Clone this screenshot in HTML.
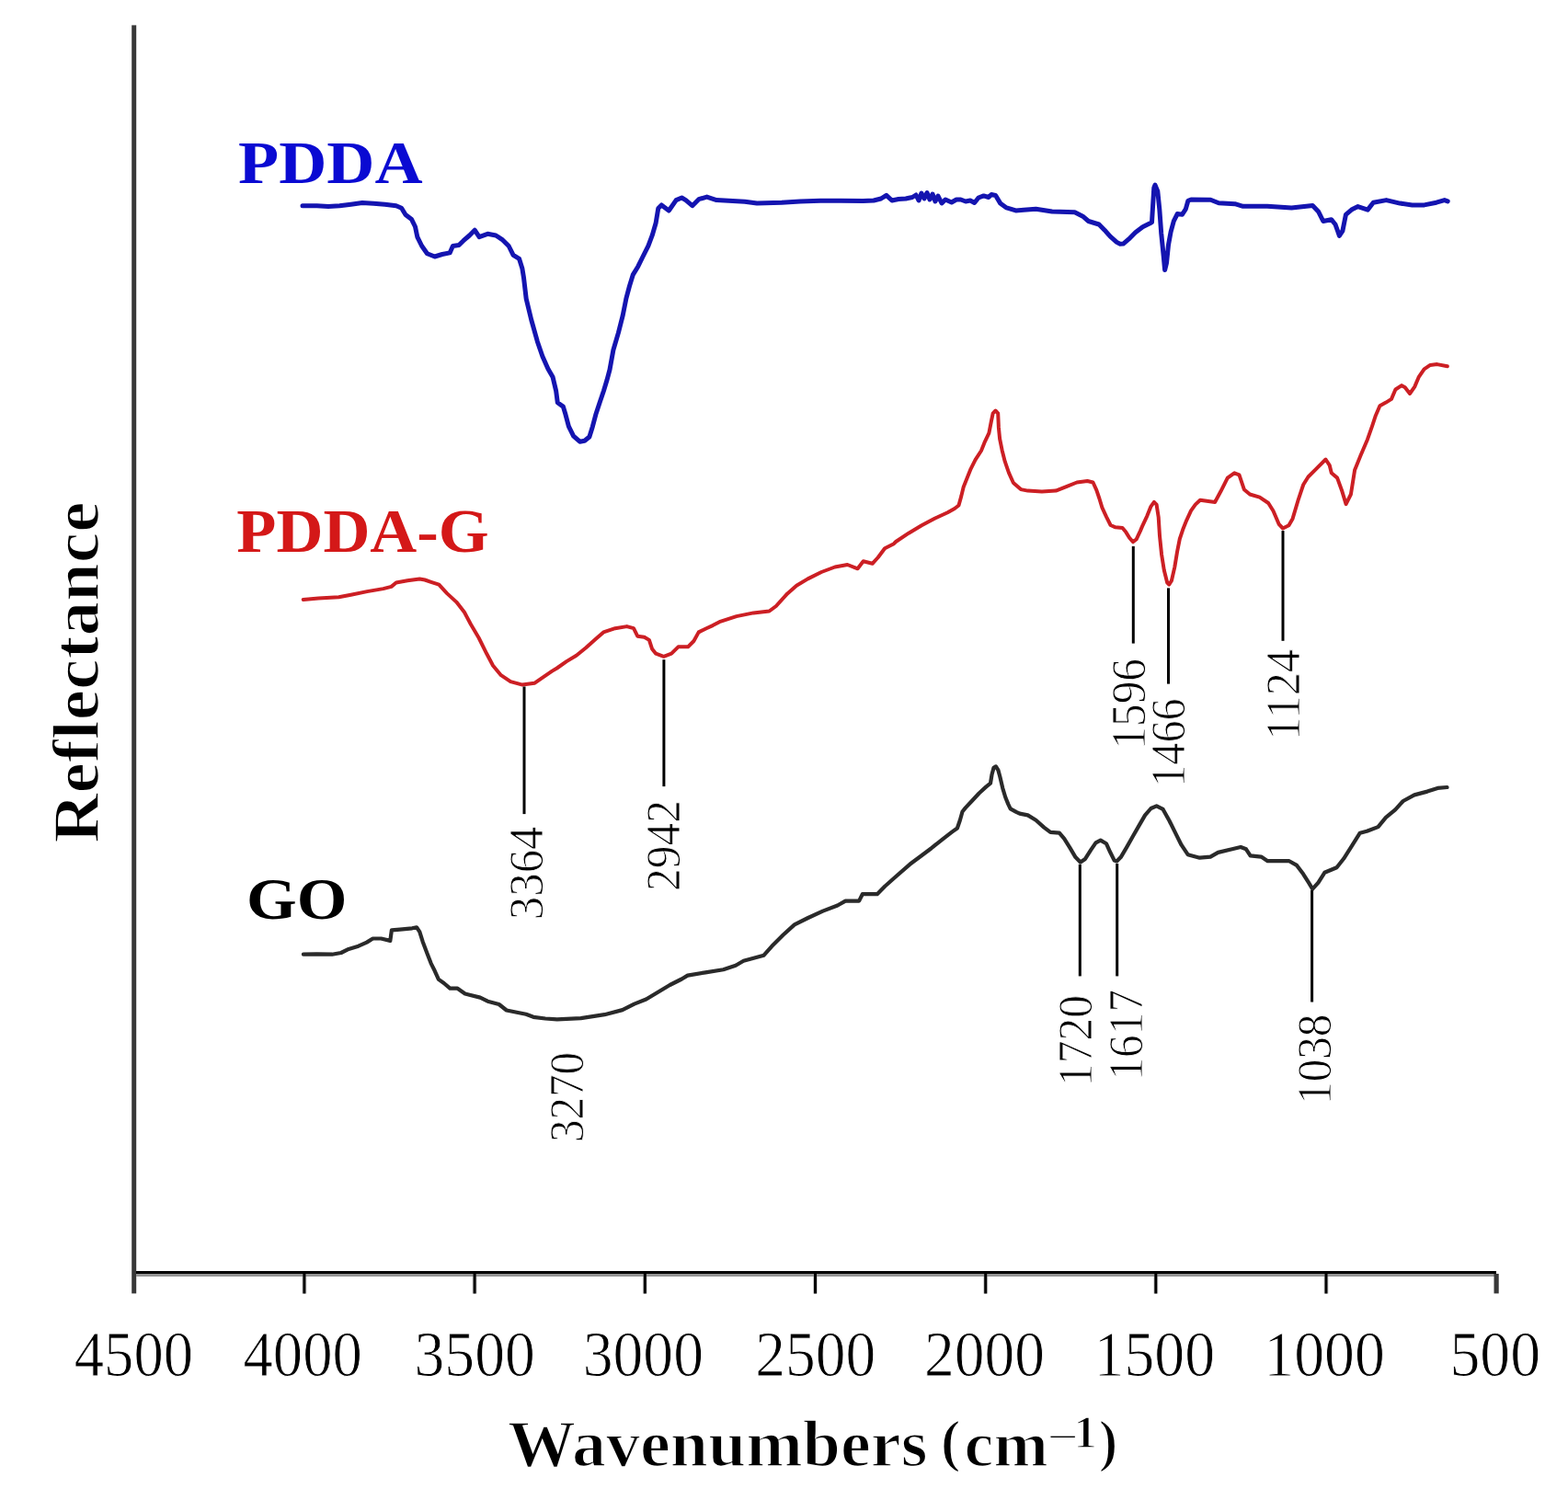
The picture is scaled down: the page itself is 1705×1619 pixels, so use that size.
<!DOCTYPE html>
<html><head><meta charset="utf-8"><title>FTIR spectra</title>
<style>
html,body{margin:0;padding:0;background:#fff;}
body{width:1705px;height:1619px;overflow:hidden;}
svg{display:block;}
text{font-family:"Liberation Serif", "Times New Roman", serif;}
</style></head>
<body>
<svg width="1705" height="1619" viewBox="0 0 1705 1619">
<rect width="1705" height="1619" fill="#fff"/>
<rect x="143.2" y="27.4" width="5" height="1379.0" fill="#383838"/>
<rect x="148" y="1382" width="1479" height="3" fill="#000"/>
<rect x="148" y="1385" width="1479" height="3" fill="#959595"/>
<rect x="328.4" y="1388" width="5" height="18.5" fill="#cfcfcf"/>
<rect x="329.4" y="1385" width="3" height="21.5" fill="#000"/>
<rect x="513.6" y="1388" width="5" height="18.5" fill="#cfcfcf"/>
<rect x="514.6" y="1385" width="3" height="21.5" fill="#000"/>
<rect x="698.8" y="1388" width="5" height="18.5" fill="#cfcfcf"/>
<rect x="699.8" y="1385" width="3" height="21.5" fill="#000"/>
<rect x="884.0" y="1388" width="5" height="18.5" fill="#cfcfcf"/>
<rect x="885.0" y="1385" width="3" height="21.5" fill="#000"/>
<rect x="1069.2" y="1388" width="5" height="18.5" fill="#cfcfcf"/>
<rect x="1070.2" y="1385" width="3" height="21.5" fill="#000"/>
<rect x="1254.3" y="1388" width="5" height="18.5" fill="#cfcfcf"/>
<rect x="1255.3" y="1385" width="3" height="21.5" fill="#000"/>
<rect x="1439.5" y="1388" width="5" height="18.5" fill="#cfcfcf"/>
<rect x="1440.5" y="1385" width="3" height="21.5" fill="#000"/>
<rect x="1624.5" y="1385" width="5.2" height="21.4" fill="#383838"/>
<path d="M329.0,223.8 L344.6,223.8 L357.0,224.6 L369.3,223.8 L381.6,222.2 L393.9,220.5 L406.2,221.3 L418.5,222.2 L430.8,223.8 L436.6,226.3 L441.0,233.5 L447.6,238.6 L451.5,246.5 L453.8,257.6 L458.7,267.5 L464.5,275.7 L472.7,279.0 L480.9,276.5 L489.1,274.9 L492.4,267.5 L499.0,266.6 L503.9,261.7 L510.5,256.0 L516.2,250.2 L521.1,257.6 L530.2,254.3 L539.2,256.0 L546.6,260.9 L553.2,267.5 L558.1,277.3 L564.6,281.4 L567.9,292.1 L569.5,302.0 L572.2,324.9 L577.8,348.0 L584.3,371.2 L589.9,387.5 L595.9,401.0 L601.1,410.1 L604.6,424.8 L606.3,437.8 L612.4,442.1 L615.0,450.8 L618.4,463.7 L623.6,474.1 L630.5,480.2 L635.7,479.3 L640.9,475.0 L644.4,463.7 L647.8,450.8 L652.1,437.8 L656.5,424.8 L659.9,413.6 L663.0,402.0 L666.9,380.5 L672.4,361.9 L677.1,343.4 L680.8,324.9 L684.5,311.0 L688.2,298.9 L693.8,289.7 L699.3,278.5 L704.9,267.4 L709.3,255.7 L713.2,242.2 L715.8,226.4 L719.3,222.9 L727.3,229.0 L735.2,217.6 L741.3,215.0 L745.7,217.6 L752.8,223.7 L759.8,216.7 L768.6,214.1 L779.2,217.6 L796.7,218.5 L809.9,219.3 L823.1,221.1 L850.0,220.2 L870.0,219.0 L892.0,218.3 L914.0,218.3 L938.5,218.6 L950.0,218.0 L958.0,216.0 L963.8,212.3 L969.9,218.0 L977.0,216.5 L984.9,216.0 L992.0,214.5 L996.0,212.0 L999.0,218.0 L1002.0,210.0 L1005.0,216.0 L1008.0,209.5 L1011.0,217.0 L1014.0,211.0 L1017.0,219.0 L1020.0,213.0 L1024.0,221.0 L1028.0,217.0 L1034.7,220.0 L1040.0,217.0 L1044.7,217.0 L1050.0,219.0 L1055.0,218.0 L1059.6,220.5 L1064.0,215.0 L1069.6,212.9 L1075.0,214.5 L1078.0,211.5 L1082.6,212.5 L1087.6,220.9 L1094.5,225.9 L1104.5,228.9 L1113.2,228.2 L1126.4,227.3 L1144.0,230.0 L1168.6,230.8 L1177.4,235.2 L1183.6,240.5 L1195.0,244.0 L1201.1,250.2 L1207.3,257.2 L1214.3,263.4 L1218.0,265.3 L1221.4,265.1 L1227.5,259.9 L1234.6,252.8 L1242.5,246.7 L1250.0,243.1 L1252.5,241.6 L1254.8,204.1 L1256.0,201.1 L1258.8,208.0 L1260.8,227.4 L1262.7,253.4 L1265.3,279.3 L1266.6,293.6 L1268.5,285.8 L1270.5,266.3 L1273.1,252.1 L1276.3,240.4 L1280.2,232.6 L1285.4,233.3 L1289.3,227.4 L1291.9,218.3 L1295.1,217.0 L1316.4,217.3 L1325.2,220.8 L1342.8,221.7 L1351.6,224.3 L1378.0,224.3 L1404.4,226.1 L1427.3,223.4 L1433.5,229.9 L1438.8,240.5 L1447.6,238.7 L1452.0,244.0 L1456.4,256.3 L1459.9,251.0 L1463.4,233.4 L1469.6,228.1 L1476.6,224.6 L1487.2,228.1 L1493.3,220.2 L1507.4,217.6 L1522.3,221.1 L1535.5,222.9 L1548.7,222.9 L1561.9,220.2 L1570.7,217.6 L1574.2,218.9" fill="none" stroke="#1414b0" stroke-width="5.0" stroke-linejoin="round" stroke-linecap="round"/>
<path d="M329.7,651.9 L346.4,650.6 L368.4,649.3 L381.6,646.7 L399.2,643.1 L416.7,640.1 L425.5,637.9 L430.8,633.5 L443.1,631.3 L456.3,629.5 L462.0,630.5 L468.7,632.8 L477.3,635.6 L486.0,645.1 L496.3,654.6 L505.0,665.8 L511.9,678.8 L520.6,693.5 L529.2,710.8 L536.1,723.8 L544.8,734.2 L555.2,741.1 L568.1,744.6 L581.1,742.8 L589.8,736.8 L600.0,729.9 L605.6,726.5 L616.1,719.1 L626.7,712.8 L637.2,704.3 L647.8,694.8 L656.2,687.4 L668.9,683.2 L681.6,681.1 L689.0,683.2 L693.2,691.7 L700.6,692.7 L705.9,695.9 L709.0,705.4 L713.2,710.7 L721.7,713.8 L730.1,710.7 L737.5,703.3 L748.1,703.3 L754.4,697.0 L759.7,687.4 L768.1,683.2 L775.0,680.1 L782.3,676.2 L800.8,670.1 L819.3,666.4 L836.5,664.5 L843.9,659.0 L856.2,645.4 L866.1,636.8 L878.4,629.4 L893.2,622.0 L907.9,616.5 L921.5,614.0 L932.6,618.3 L938.7,610.3 L948.6,612.8 L954.8,606.0 L962.1,596.2 L972.0,591.2 L974.1,589.0 L988.1,579.7 L1002.2,571.3 L1016.3,563.8 L1030.4,557.2 L1038.0,553.0 L1042.5,549.5 L1045.3,539.4 L1047.7,529.5 L1051.7,519.6 L1055.6,509.8 L1060.6,499.9 L1067.0,490.0 L1071.0,480.1 L1075.4,470.9 L1077.8,458.5 L1079.7,449.3 L1082.5,446.5 L1085.2,449.3 L1085.9,464.7 L1087.1,477.0 L1089.6,489.4 L1092.7,501.7 L1097.0,514.1 L1101.9,525.0 L1110.0,532.1 L1117.6,533.6 L1132.9,534.4 L1148.1,533.6 L1159.5,529.1 L1171.0,524.5 L1182.4,523.0 L1188.5,524.5 L1192.3,532.9 L1195.4,542.0 L1198.4,551.9 L1203.0,561.8 L1207.6,571.0 L1212.9,573.3 L1220.5,574.0 L1224.3,578.6 L1228.1,584.7 L1232.0,589.3 L1235.8,586.2 L1240.0,577.1 L1242.0,572.4 L1247.4,560.8 L1251.5,550.6 L1254.9,545.9 L1257.6,548.6 L1259.7,562.2 L1261.0,582.6 L1263.1,603.0 L1265.8,620.0 L1269.2,633.6 L1271.2,635.6 L1273.9,631.5 L1277.3,616.6 L1280.1,599.6 L1282.8,586.0 L1286.2,575.8 L1290.3,565.6 L1295.0,555.4 L1299.8,548.6 L1305.0,543.8 L1321.1,546.0 L1327.4,534.3 L1334.8,519.6 L1342.2,514.3 L1347.5,516.4 L1352.8,532.2 L1359.1,537.5 L1369.7,540.7 L1379.2,547.0 L1384.5,555.5 L1390.8,570.2 L1395.0,574.5 L1401.4,571.3 L1405.6,563.9 L1411.9,542.8 L1417.2,527.0 L1422.5,518.5 L1430.9,510.1 L1441.5,499.5 L1445.7,505.8 L1447.8,514.3 L1454.1,519.6 L1459.4,534.3 L1463.6,548.1 L1468.9,537.5 L1473.1,511.1 L1479.5,495.3 L1487.0,477.7 L1492.2,462.8 L1495.9,451.7 L1500.4,441.3 L1507.1,437.6 L1513.0,433.9 L1517.4,423.5 L1524.1,419.1 L1527.8,421.3 L1533.0,428.0 L1538.2,420.6 L1542.6,410.2 L1548.6,401.3 L1555.2,396.9 L1562.7,396.1 L1573.8,398.3" fill="none" stroke="#cc1f24" stroke-width="4.0" stroke-linejoin="round" stroke-linecap="round"/>
<path d="M329.9,1037.7 L344.6,1037.3 L361.1,1037.7 L370.9,1036.0 L379.1,1031.9 L389.8,1028.7 L398.8,1024.6 L405.4,1020.5 L414.4,1020.5 L424.3,1022.9 L425.9,1011.4 L434.9,1010.6 L448.2,1009.3 L453.0,1008.3 L456.3,1013.1 L459.6,1023.7 L464.6,1036.9 L468.7,1047.6 L472.8,1055.8 L476.9,1064.9 L482.7,1069.0 L489.3,1074.7 L497.5,1074.7 L505.7,1080.5 L522.1,1084.6 L530.3,1088.7 L542.6,1092.0 L550.8,1098.5 L563.2,1101.0 L572.0,1102.8 L580.0,1105.8 L593.0,1107.5 L605.8,1108.4 L631.6,1107.1 L657.4,1103.2 L676.8,1098.1 L689.7,1091.6 L702.6,1086.5 L715.5,1078.7 L728.4,1071.0 L741.3,1064.5 L747.7,1060.6 L767.1,1057.4 L786.5,1054.2 L800.0,1049.7 L808.5,1044.8 L830.6,1038.7 L839.3,1028.8 L851.6,1016.5 L863.9,1005.4 L878.7,998.0 L894.7,990.6 L910.7,984.5 L919.3,979.6 L934.1,979.6 L937.8,972.2 L953.8,972.2 L962.4,963.5 L974.8,952.5 L989.3,939.8 L1001.1,931.0 L1012.8,922.2 L1024.5,912.8 L1035.1,904.6 L1040.9,900.5 L1043.9,891.7 L1046.5,882.5 L1049.8,878.4 L1057.2,870.5 L1064.6,862.5 L1072.1,855.6 L1077.0,851.7 L1078.5,842.3 L1080.5,834.9 L1082.9,833.4 L1085.4,837.4 L1087.4,844.8 L1090.3,857.1 L1093.3,867.0 L1096.3,874.4 L1098.7,879.3 L1105.0,882.8 L1108.8,884.6 L1117.6,886.4 L1126.4,891.7 L1135.2,899.6 L1142.2,904.9 L1151.9,905.7 L1157.2,911.9 L1163.3,921.6 L1169.5,932.1 L1174.8,937.4 L1180.0,933.9 L1186.2,924.2 L1191.5,916.3 L1196.7,913.6 L1202.9,917.2 L1207.3,926.8 L1211.7,935.6 L1214.3,936.5 L1218.7,932.1 L1224.9,921.6 L1231.9,909.3 L1239.0,896.9 L1245.1,886.4 L1251.5,879.0 L1257.6,876.4 L1264.6,879.9 L1271.7,892.8 L1278.7,906.9 L1284.6,918.7 L1291.6,929.2 L1304.5,932.7 L1316.2,931.6 L1324.5,926.9 L1339.7,923.3 L1349.1,921.0 L1355.0,923.3 L1359.6,930.4 L1371.4,931.6 L1378.4,936.2 L1401.9,936.2 L1410.1,940.9 L1417.1,950.3 L1423.0,959.7 L1427.2,966.7 L1433.5,959.7 L1440.3,948.8 L1453.5,943.2 L1461.0,933.8 L1469.4,920.7 L1478.8,905.7 L1486.3,903.8 L1498.5,899.1 L1506.9,888.8 L1517.2,880.3 L1525.7,871.0 L1537.9,864.4 L1552.0,860.6 L1563.2,856.9 L1573.5,856.0" fill="none" stroke="#2a2a2a" stroke-width="4.2" stroke-linejoin="round" stroke-linecap="round"/>
<rect x="568.5" y="746.5" width="3" height="138.6" fill="#000"/>
<rect x="720.4" y="717.2" width="3" height="137.9" fill="#000"/>
<rect x="1230.8" y="594" width="3" height="105.6" fill="#000"/>
<rect x="1269.0" y="639.4" width="3" height="104.2" fill="#000"/>
<rect x="1393.5" y="577.1" width="3" height="119.7" fill="#000"/>
<rect x="1172.8" y="939.8" width="3" height="121.6" fill="#000"/>
<rect x="1213.2" y="939" width="3" height="122.4" fill="#000"/>
<rect x="1425.1" y="968" width="3" height="121.5" fill="#000"/>
<text transform="translate(80.76,1495.90) scale(0.9373,1)" font-size="69.00" font-weight="normal" fill="#000" stroke="#fff" stroke-width="0.9">4500</text>
<text transform="translate(264.51,1495.90) scale(0.9373,1)" font-size="69.00" font-weight="normal" fill="#000" stroke="#fff" stroke-width="0.9">4000</text>
<text transform="translate(450.55,1495.90) scale(0.9510,1)" font-size="69.00" font-weight="normal" fill="#000" stroke="#fff" stroke-width="0.9">3500</text>
<text transform="translate(633.75,1495.90) scale(0.9510,1)" font-size="69.00" font-weight="normal" fill="#000" stroke="#fff" stroke-width="0.9">3000</text>
<text transform="translate(821.32,1495.90) scale(0.9491,1)" font-size="69.00" font-weight="normal" fill="#000" stroke="#fff" stroke-width="0.9">2500</text>
<text transform="translate(1005.02,1495.90) scale(0.9491,1)" font-size="69.00" font-weight="normal" fill="#000" stroke="#fff" stroke-width="0.9">2000</text>
<text transform="translate(1189.61,1495.90) scale(0.9528,1)" font-size="69.00" font-weight="normal" fill="#000" stroke="#fff" stroke-width="0.9">1500</text>
<text transform="translate(1374.31,1495.90) scale(0.9528,1)" font-size="69.00" font-weight="normal" fill="#000" stroke="#fff" stroke-width="0.9">1000</text>
<text transform="translate(1576.38,1495.90) scale(0.9538,1)" font-size="69.00" font-weight="normal" fill="#000" stroke="#fff" stroke-width="0.9">500</text>
<text transform="translate(590.00,1000.14) rotate(-90) scale(0.9793,1)" font-size="51.90" font-weight="normal" fill="#000" stroke="#fff" stroke-width="0.9">3364</text>
<text transform="translate(738.50,968.98) rotate(-90) scale(0.9548,1)" font-size="51.90" font-weight="normal" fill="#000" stroke="#fff" stroke-width="0.9">2942</text>
<text transform="translate(1244.70,814.75) rotate(-90) scale(0.9521,1)" font-size="51.90" font-weight="normal" fill="#000" stroke="#fff" stroke-width="0.9">1596</text>
<text transform="translate(1288.00,855.85) rotate(-90) scale(0.9306,1)" font-size="51.90" font-weight="normal" fill="#000" stroke="#fff" stroke-width="0.9">1466</text>
<text transform="translate(1413.00,804.94) rotate(-90) scale(0.9722,1)" font-size="51.90" font-weight="normal" fill="#000" stroke="#fff" stroke-width="0.9">1124</text>
<text transform="translate(1186.90,1181.16) rotate(-90) scale(0.9552,1)" font-size="51.90" font-weight="normal" fill="#000" stroke="#fff" stroke-width="0.9">1720</text>
<text transform="translate(1242.30,1174.54) rotate(-90) scale(0.9506,1)" font-size="51.90" font-weight="normal" fill="#000" stroke="#fff" stroke-width="0.9">1617</text>
<text transform="translate(1446.90,1200.82) rotate(-90) scale(0.9459,1)" font-size="51.90" font-weight="normal" fill="#000" stroke="#fff" stroke-width="0.9">1038</text>
<text transform="translate(634.00,1242.06) rotate(-90) scale(0.9463,1)" font-size="51.90" font-weight="normal" fill="#000" stroke="#fff" stroke-width="0.9">3270</text>
<text transform="translate(259.07,198.70) scale(1.0851,1)" font-size="66.52" font-weight="bold" fill="#0a0ad2"  >PDDA</text>
<text transform="translate(257.30,600.30) scale(1.0557,1)" font-size="66.87" font-weight="bold" fill="#d41818"  >PDDA-G</text>
<text transform="translate(268.06,999.30) scale(1.1055,1)" font-size="63.60" font-weight="bold" fill="#000"  >GO</text>
<text transform="translate(552.06,1594.00) scale(1.0424,1)" font-size="71.00" font-weight="bold" fill="#000" stroke="#fff" stroke-width="1.6">Wavenumbers</text>
<text transform="translate(1022.81,1587.66) scale(1.0266,1)" font-size="64.06" font-weight="bold" fill="#000" stroke="#fff" stroke-width="1.6">(</text>
<text transform="translate(1048.57,1593.90) scale(1.0303,1)" font-size="69.43" font-weight="bold" fill="#000" stroke="#fff" stroke-width="1.6">cm</text>
<text transform="translate(1138.84,1578.60) scale(1.1828,1)" font-size="50.00" font-weight="normal" fill="#000" stroke="#fff" stroke-width="0.9">−</text>
<text transform="translate(1167.27,1573.80) scale(1.0389,1)" font-size="49.70" font-weight="bold" fill="#000" stroke="#fff" stroke-width="1.6">1</text>
<text transform="translate(1194.72,1587.66) scale(0.9658,1)" font-size="64.06" font-weight="bold" fill="#000" stroke="#fff" stroke-width="1.6">)</text>
<text transform="translate(106.80,916.78) rotate(-90) scale(1.0586,1)" font-size="71.00" font-weight="bold" fill="#000" stroke="#fff" stroke-width="1.6">Reflectance</text>
</svg>
</body></html>
